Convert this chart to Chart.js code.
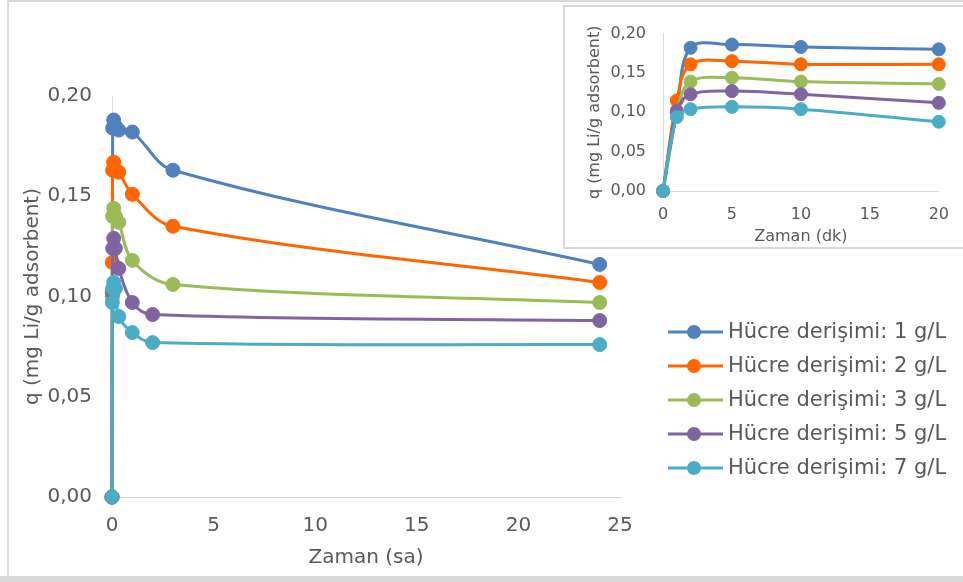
<!DOCTYPE html>
<html><head><meta charset="utf-8">
<script src="https://cdn.jsdelivr.net/npm/chart.js@4/dist/chart.umd.min.js"></script>
<style>
html,body{margin:0;padding:0;background:#fff;}
#wrap{position:relative;width:963px;height:582px;overflow:hidden;background:#fff;}
#main{position:absolute;left:0;top:0;}
#insetBox{position:absolute;left:563px;top:5px;width:410px;height:244px;border:2px solid #d9d9d9;box-sizing:border-box;background:#fff;}
#inset{position:absolute;left:565px;top:7px;}
.bl{position:absolute;background:#d9d9d9;}
</style></head>
<body><div id="wrap">
<canvas id="main" width="963" height="582"></canvas>
<div class="bl" style="left:7px;top:0;width:2px;height:582px"></div>
<div class="bl" style="left:7px;top:0;width:956px;height:2px"></div>
<div class="bl" style="left:0;top:576px;width:963px;height:6px"></div>
<div id="insetBox"></div>
<canvas id="inset" width="398" height="240"></canvas>
</div>
<script>
// ---- data ----
const seriesNames = ['Hücre derişimi: 1 g/L','Hücre derişimi: 2 g/L','Hücre derişimi: 3 g/L','Hücre derişimi: 5 g/L','Hücre derişimi: 7 g/L'];
const seriesColors = ['#4F81BD','#FF6600','#9BBB59','#8064A2','#4BACC6'];

// main chart: time in hours (sa)
const hours1 = [0, 0.0167, 0.0333, 0.0833, 0.1667, 0.3333, 1, 3, 24];
const hours2 = [0, 0.0167, 0.0333, 0.0833, 0.1667, 0.3333, 1, 3, 24];
const hours3 = [0, 0.0167, 0.0333, 0.0833, 0.1667, 0.3333, 1, 3, 24];
const hours5 = [0, 0.0167, 0.0333, 0.0833, 0.1667, 0.3333, 1, 2, 24];
const hours7 = [0, 0.0167, 0.0333, 0.0833, 0.1667, 0.3333, 1, 2, 24];
const q1 = [0, 0.100, 0.184, 0.188, 0.185, 0.183, 0.182, 0.163, 0.116];
const q2 = [0, 0.117, 0.163, 0.167, 0.163, 0.162, 0.151, 0.135, 0.107];
const q3 = [0, 0.100, 0.140, 0.144, 0.140, 0.137, 0.118, 0.106, 0.097];
const q5 = [0, 0.102, 0.124, 0.129, 0.124, 0.114, 0.097, 0.091, 0.088];
const q7 = [0, 0.097, 0.104, 0.107, 0.104, 0.090, 0.082, 0.077, 0.076];

// inset chart: time in minutes (dk)
const minutes = [0, 1, 2, 5, 10, 20];
const qi1 = [0, 0.100, 0.182, 0.186, 0.183, 0.180];
const qi2 = [0, 0.115, 0.161, 0.165, 0.161, 0.161];
const qi3 = [0, 0.100, 0.139, 0.144, 0.139, 0.136];
const qi5 = [0, 0.102, 0.123, 0.127, 0.123, 0.112];
const qi7 = [0, 0.094, 0.104, 0.107, 0.104, 0.088];

const xMainTicks = {min:0, max:25, step:5};
const xInsetTicks = {min:0, max:20, step:5};
const yTicks = {min:0, max:0.2, step:0.05};

// ---- drawing ----
const FAM = '"DejaVu Sans", sans-serif';
const TXT = '#595959';
const AX = '#d9d9d9';
const fmt = v => v.toFixed(2).replace('.', ',');
const pts = (xs, ys) => xs.map((x, i) => ({x, y: ys[i]}));

function makeSets(xsList, ysList, r) {
  return ysList.map((ys, i) => ({
    label: seriesNames[i],
    data: pts(xsList[i], ys),
    borderColor: seriesColors[i],
    backgroundColor: seriesColors[i],
    pointBackgroundColor: seriesColors[i],
    pointBorderColor: seriesColors[i],
    pointBorderWidth: 1,
    pointRadius: r,
    borderWidth: 3,
    tension: 0.35,
    clip: false,
    order: 4 - i
  }));
}

const legendPlugin = {
  id: 'customLegend',
  afterDraw(chart) {
    const ctx = chart.ctx;
    ctx.save();
    seriesNames.forEach((name, i) => {
      const y = 332 + i * 34;
      ctx.strokeStyle = seriesColors[i];
      ctx.lineWidth = 3;
      ctx.beginPath(); ctx.moveTo(668, y); ctx.lineTo(723, y); ctx.stroke();
      ctx.fillStyle = seriesColors[i];
      ctx.beginPath(); ctx.arc(694, y, 7, 0, Math.PI * 2); ctx.fill();
      ctx.fillStyle = TXT;
      ctx.font = '21px ' + FAM;
      ctx.textBaseline = 'middle';
      ctx.textAlign = 'left';
      ctx.fillText(name, 728, y + 1);
    });
    ctx.restore();
  }
};

new Chart(document.getElementById('main'), {
  type: 'line',
  data: { datasets: makeSets([hours1, hours2, hours3, hours5, hours7], [q1, q2, q3, q5, q7], 7) },
  options: {
    responsive: false, animation: false, devicePixelRatio: 1,
    layout: { padding: { left: 0, top: 96, right: 343, bottom: 0 } },
    plugins: { legend: { display: false }, tooltip: { enabled: false } },
    scales: {
      x: {
        type: 'linear', min: xMainTicks.min, max: xMainTicks.max,
        ticks: { stepSize: xMainTicks.step, color: TXT, font: { family: FAM, size: 20 }, padding: 17, maxRotation: 0 },
        grid: { display: false, drawTicks: false },
        border: { display: true, color: AX, width: 1 },
        title: { display: true, text: 'Zaman (sa)', color: TXT, font: { family: FAM, size: 20 }, padding: { top: 0, bottom: 12 } },
        afterFit(s) { s.height = 85; }
      },
      y: {
        type: 'linear', min: yTicks.min, max: yTicks.max,
        ticks: { stepSize: yTicks.step, color: TXT, font: { family: FAM, size: 20 }, padding: 20, callback: v => fmt(v) },
        grid: { display: false, drawTicks: false },
        border: { display: true, color: AX, width: 1 },
        title: { display: true, text: 'q (mg Li/g adsorbent)', color: TXT, font: { family: FAM, size: 20 }, padding: { top: 21, bottom: 0 } },
        afterFit(s) { s.width = 112; }
      }
    }
  },
  plugins: [legendPlugin]
});

new Chart(document.getElementById('inset'), {
  type: 'line',
  data: { datasets: makeSets([minutes, minutes, minutes, minutes, minutes], [qi1, qi2, qi3, qi5, qi7], 6.5) },
  options: {
    responsive: false, animation: false, devicePixelRatio: 1,
    layout: { padding: { left: 0, top: 9, right: 23, bottom: 0 } },
    plugins: { legend: { display: false }, tooltip: { enabled: false } },
    scales: {
      x: {
        type: 'linear', min: xInsetTicks.min, max: xInsetTicks.max,
        ticks: { stepSize: xInsetTicks.step, color: TXT, font: { family: FAM, size: 16 }, padding: 14, maxRotation: 0 },
        grid: { display: false, drawTicks: false },
        border: { display: true, color: AX, width: 1 },
        title: { display: true, text: 'Zaman (dk)', color: TXT, font: { family: FAM, size: 16 }, padding: { top: 0, bottom: 1 } },
        afterFit(s) { s.height = 56; }
      },
      y: {
        type: 'linear', min: yTicks.min, max: yTicks.max,
        ticks: { stepSize: yTicks.step, color: TXT, font: { family: FAM, size: 16 }, padding: 17, callback: v => fmt(v) },
        grid: { display: false, drawTicks: false },
        border: { display: true, color: AX, width: 1 },
        title: { display: true, text: 'q (mg Li/g adsorbent)', color: TXT, font: { family: FAM, size: 16 }, padding: { top: 20, bottom: 0 } },
        afterFit(s) { s.width = 98; }
      }
    }
  }
});
</script>
</body></html>
